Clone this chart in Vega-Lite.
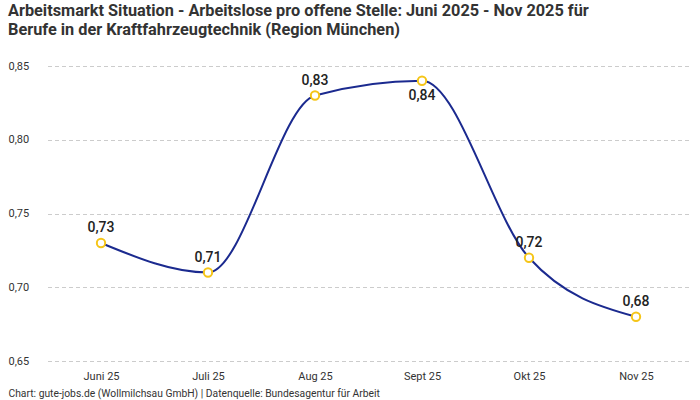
{
  "$schema": "https://vega.github.io/schema/vega-lite/v6.json",
  "width": 642,
  "height": 295,
  "autosize": {"type": "none"},
  "padding": {"left": 47.5, "top": 66, "right": 10.5, "bottom": 39},
  "background": "white",
  "title": {
    "text": ["Arbeitsmarkt Situation - Arbeitslose pro offene Stelle: Juni 2025 - Nov 2025 für", "Berufe in der Kraftfahrzeugtechnik (Region München)"],
    "anchor": "start",
    "frame": "group",
    "dx": -39.5,
    "offset": 22,
    "font": "Roboto",
    "fontSize": 16.3,
    "fontWeight": "bold",
    "color": "#333333",
    "lineHeight": 18.5
  },
  "config": {
    "locale": {"number": {"decimal": ",", "thousands": ".", "grouping": [3], "currency": ["", " €"]}},
    "view": {"stroke": null},
    "font": "Roboto"
  },
  "data": {
    "values": [
      {"monat": "Juni 25", "wert": 0.73},
      {"monat": "Juli 25", "wert": 0.71},
      {"monat": "Aug 25", "wert": 0.83},
      {"monat": "Sept 25", "wert": 0.84},
      {"monat": "Okt 25", "wert": 0.72},
      {"monat": "Nov 25", "wert": 0.68}
    ]
  },
  "encoding": {
    "x": {
      "field": "monat", "type": "ordinal", "sort": null,
      "scale": {"paddingInner": 0, "paddingOuter": 0},
      "axis": {
        "labelAngle": 0, "domain": false, "ticks": false, "grid": false,
        "labelPadding": 9, "labelFontSize": 11, "labelColor": "#333333",
        "title": "Chart: gute-jobs.de (Wollmilchsau GmbH) | Datenquelle: Bundesagentur für Arbeit",
        "titleAnchor": "start", "titleAlign": "left", "titleX": -39.5, "titleY": 32,
        "titleFontSize": 10.3, "titleFontWeight": "normal", "titleColor": "#333333", "titleBaseline": "middle"
      }
    },
    "y": {
      "field": "wert", "type": "quantitative",
      "scale": {"domain": [0.65, 0.85], "zero": false, "nice": false},
      "axis": {
        "values": [0.65, 0.7, 0.75, 0.8, 0.85], "format": ".2f",
        "domain": false, "ticks": false, "title": null,
        "labelAlign": "left", "labelPadding": 39.5, "labelFontSize": 11, "labelColor": "#333333",
        "gridColor": "#cccccc", "gridDash": [4, 3], "gridWidth": 1
      }
    }
  },
  "layer": [
    {
      "mark": {"type": "line", "interpolate": "monotone", "color": "#1b2a8f", "strokeWidth": 2}
    },
    {
      "mark": {"type": "point", "filled": false, "fill": "white", "fillOpacity": 1, "stroke": "#f5c518", "strokeWidth": 2, "size": 70, "opacity": 1}
    },
    {
      "transform": [{"filter": "datum.monat !== 'Sept 25'"}],
      "mark": {"type": "text", "dy": -15, "fontSize": 14, "fontWeight": 500, "color": "#222222"},
      "encoding": {"text": {"field": "wert", "type": "quantitative", "format": ".2f"}}
    },
    {
      "transform": [{"filter": "datum.monat === 'Sept 25'"}],
      "mark": {"type": "text", "dy": 15, "fontSize": 14, "fontWeight": 500, "color": "#222222"},
      "encoding": {"text": {"field": "wert", "type": "quantitative", "format": ".2f"}}
    }
  ]
}
